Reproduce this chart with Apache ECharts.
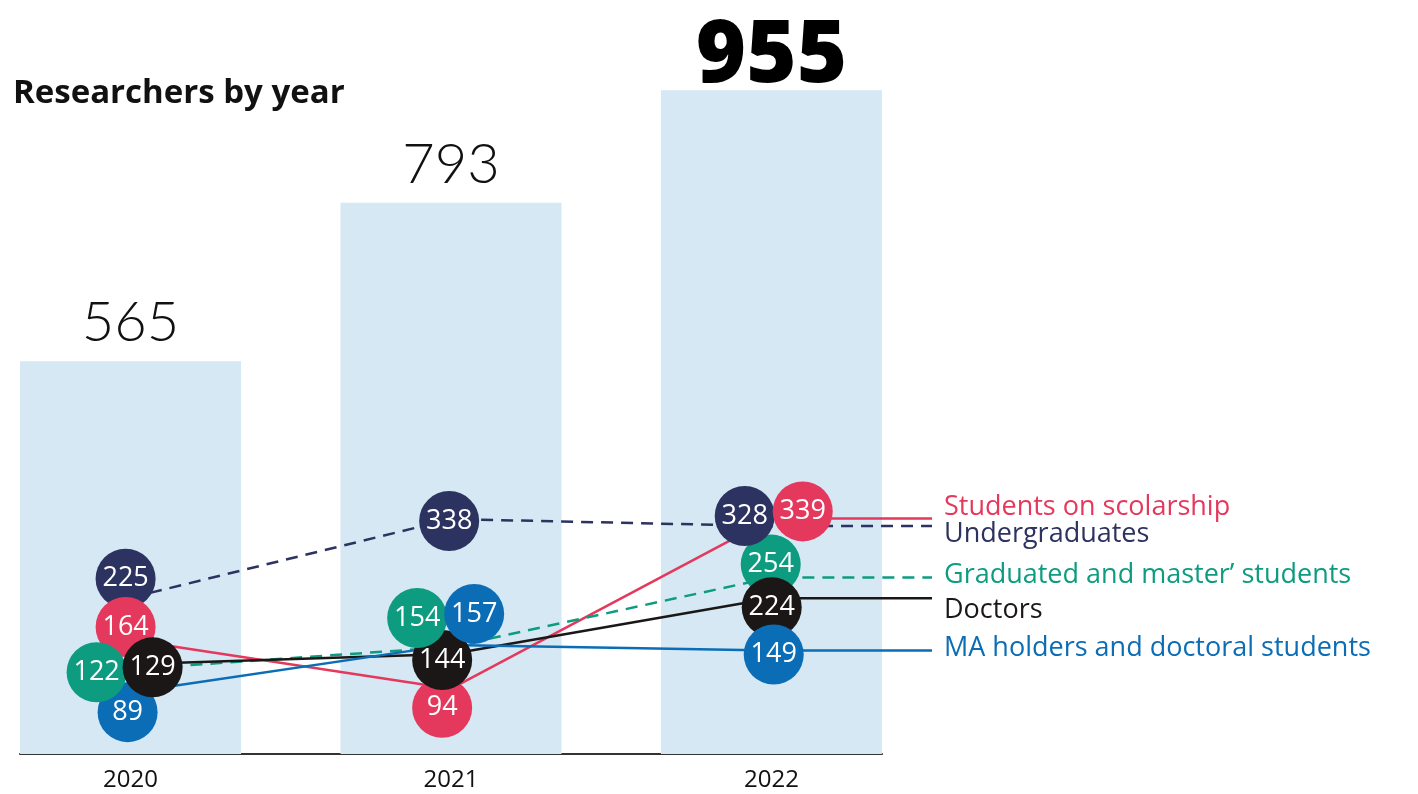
<!DOCTYPE html>
<html>
<head>
<meta charset="utf-8">
<script src="https://cdn.jsdelivr.net/npm/echarts@6/dist/echarts.min.js"></script>
<style>
  html, body { margin: 0; padding: 0; background: #fff; }
  #chart { width: 1418px; height: 794px; }
</style>
</head>
<body>
<div id="chart"></div>
<script>
// data
const years = ['2020', '2021', '2022']
const totals = [565, 793, 955]
const seriesNames = [
  'Students on scolarship',
  'Undergraduates',
  'Graduated and master\u2019 students',
  'Doctors',
  'MA holders and doctoral students'
]
const scholarship = [164, 94, 339]
const undergraduates = [225, 338, 328]
const graduated = [122, 154, 254]
const doctors = [129, 144, 224]
const maHolders = [89, 157, 149]

// styles
const colors = ['#e5385d', '#2d3360', '#0e9c80', '#1b1717', '#0b6db5']
const dashed = [false, true, true, false, false]
// circles are nudged off their point so they don't hide each other (px)
const circleShift = [
  [[-5, -13], [-9, 19], [31, -7]],
  [[-5, -19], [-2, 2], [-27, -10]],
  [[-34, 3], [-34, -29], [-1, -13]],
  [[22, 3], [-9, 6], [0, 9]],
  [[-3, 20], [23, -31], [2, 4]]
]
// drawing order of circles for each year, bottom first
const circleOrder = [[1, 0, 4, 2, 3], [1, 0, 3, 2, 4], [2, 1, 0, 3, 4]]
// vertical nudge of the end labels
const labelShift = [-11, 8, -2, 12, -2]

const groups = [scholarship, undergraduates, graduated, doctors, maHolders]
const font = 'Open Sans'

const chart = echarts.init(document.getElementById('chart'))

const lineSeries = groups.map((vals, s) => ({
  name: seriesNames[s],
  type: 'line',
  xAxisIndex: 1,
  yAxisIndex: 1,
  symbol: 'none',
  z: 3,
  lineStyle: { color: colors[s], width: 2.5, type: dashed[s] ? [12, 8] : 'solid' },
  data: vals.map((v, i) => [i, v]).concat([[2.5, vals[2]]]),
  endLabel: {
    show: true,
    formatter: seriesNames[s],
    color: colors[s],
    fontFamily: font,
    fontSize: 27,
    distance: 12,
    offset: [0, labelShift[s]]
  }
}))

const circleData = []
years.forEach((y, i) => {
  circleOrder[i].forEach(s => {
    circleData.push({
      value: [i, groups[s][i]],
      symbolOffset: circleShift[s][i],
      itemStyle: { color: colors[s], opacity: 1 }
    })
  })
})

const option = {
  animation: false,
  title: {
    text: 'Researchers by year',
    left: 13,
    top: 77,
    padding: 0,
    textStyle: { fontFamily: font, fontSize: 33, fontWeight: 'bold', color: '#111' }
  },
  grid: [
    { left: 20, right: 536, top: 59, bottom: 40 },
    { left: 20, right: 486, top: 59, bottom: 40 }
  ],
  xAxis: [
    {
      type: 'value',
      gridIndex: 0,
      min: -0.345,
      max: 2.345,
      splitLine: { show: false },
      axisTick: { show: false },
      axisLine: { show: true, lineStyle: { color: '#333', width: 2 } },
      axisLabel: {
        customValues: [0, 1, 2],
        formatter: v => years[v],
        color: '#111',
        fontFamily: font,
        fontSize: 24,
        margin: 14
      }
    },
    { type: 'value', gridIndex: 1, min: -0.345, max: 2.5, show: false }
  ],
  yAxis: [
    { type: 'value', gridIndex: 0, min: 0, max: 1000, show: false },
    { type: 'value', gridIndex: 1, min: 0, max: 1000, show: false }
  ],
  series: [
    {
      type: 'bar',
      xAxisIndex: 0,
      yAxisIndex: 0,
      barWidth: 221,
      itemStyle: { color: '#d5e8f3' },
      z: 1,
      data: totals.map((v, i) => {
        const top = v === Math.max(...totals)
        return {
          value: [i, v],
          label: {
            show: true,
            position: 'top',
            distance: top ? -10 : 10,
            formatter: p => p.value[1],
            color: top ? '#000' : '#111',
            fontFamily: top ? font : 'Lato',
            fontSize: top ? 86 : 56,
            fontWeight: top ? 800 : 300
          }
        }
      })
    },
    ...lineSeries,
    {
      type: 'scatter',
      xAxisIndex: 1,
      yAxisIndex: 1,
      symbol: 'circle',
      symbolSize: 60,
      z: 5,
      clip: false,
      label: {
        show: true,
        position: 'inside',
        formatter: p => p.value[1],
        color: '#fff',
        fontFamily: font,
        fontSize: 27
      },
      data: circleData
    }
  ]
}

chart.setOption(option)
window.onresize = function () {
  chart.resize()
}
</script>
</body>
</html>
